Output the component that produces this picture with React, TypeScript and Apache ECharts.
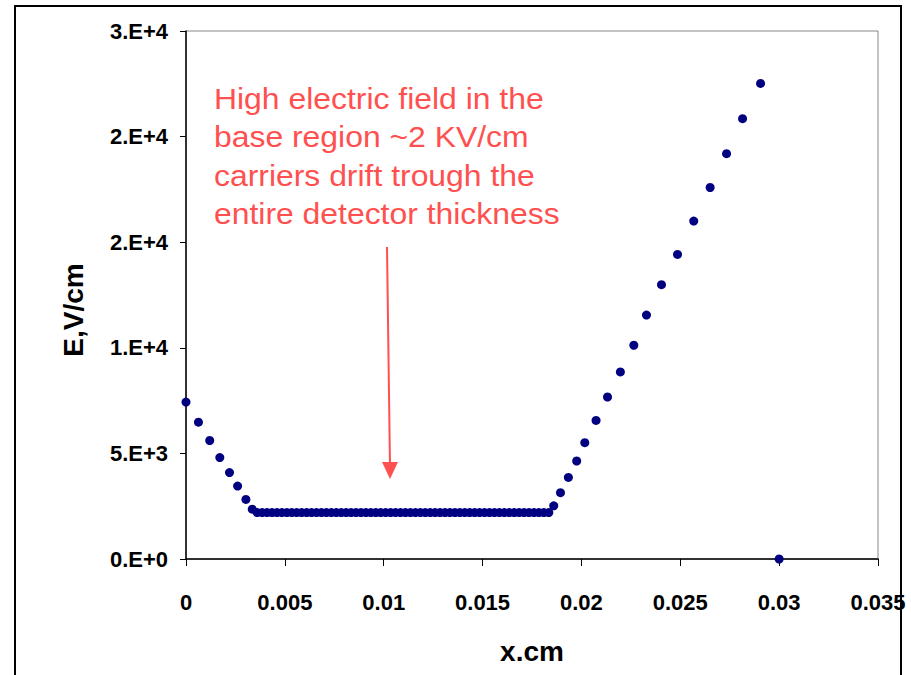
import React, { useEffect, useRef } from "react";
import * as echarts from "echarts";

// Descending part near x = 0
const descX = [0, 0.00063, 0.0012, 0.00171, 0.0022, 0.00261, 0.00303, 0.00335];
const descE = [7430, 6480, 5610, 4800, 4090, 3455, 2820, 2360];

// Flat base region
const flatX = [
  0.0036, 0.00385, 0.0041, 0.00435, 0.0046, 0.00485, 0.0051, 0.00535, 0.0056, 0.00585,
  0.0061, 0.00635, 0.0066, 0.00685, 0.0071, 0.00735, 0.0076, 0.00785, 0.0081, 0.00835,
  0.0086, 0.00885, 0.0091, 0.00935, 0.0096, 0.00985, 0.0101, 0.01035, 0.0106, 0.01085,
  0.0111, 0.01135, 0.0116, 0.01185, 0.0121, 0.01235, 0.0126, 0.01285, 0.0131, 0.01335,
  0.0136, 0.01385, 0.0141, 0.01435, 0.0146, 0.01485, 0.0151, 0.01535, 0.0156, 0.01585,
  0.0161, 0.01635, 0.0166, 0.01685, 0.0171, 0.01735, 0.0176, 0.01785, 0.0181, 0.01835,
];
const flatE = [
  2200, 2200, 2200, 2200, 2200, 2200, 2200, 2200, 2200, 2200,
  2200, 2200, 2200, 2200, 2200, 2200, 2200, 2200, 2200, 2200,
  2200, 2200, 2200, 2200, 2200, 2200, 2200, 2200, 2200, 2200,
  2200, 2200, 2200, 2200, 2200, 2200, 2200, 2200, 2200, 2200,
  2200, 2200, 2200, 2200, 2200, 2200, 2200, 2200, 2200, 2200,
  2200, 2200, 2200, 2200, 2200, 2200, 2200, 2200, 2200, 2200,
];

// Rising part and end point
const riseX = [0.0186, 0.01894, 0.01934, 0.01976, 0.02017, 0.02074, 0.02132, 0.02197, 0.02265,
  0.02329, 0.02405, 0.02486, 0.02568, 0.02651, 0.02734, 0.02815, 0.02906, 0.03];
const riseE = [2520, 3140, 3860, 4640, 5510, 6560, 7670, 8860, 10120,
  11550, 12990, 14420, 16000, 17590, 19190, 20850, 22520, 0];

const xTicks = [0, 0.005, 0.01, 0.015, 0.02, 0.025, 0.03, 0.035];
const yTicks = [0, 5000, 10000, 15000, 20000, 25000];

const annotation = [
  "High electric field in the",
  "base region ~2 KV/cm",
  "carriers drift trough the",
  "entire detector thickness",
];

function sciLabel(v: number): string {
  if (v === 0) return "0.E+0";
  let e = Math.floor(Math.log10(Math.abs(v)) + 1e-9);
  let m = Math.round(v / Math.pow(10, e) + 1e-9);
  if (m >= 10) { m = 1; e += 1; }
  return `${m}.E+${e}`;
}

export default function App() {
  const ref = useRef<HTMLDivElement>(null);
  useEffect(() => {
    if (!ref.current) return;
    const chart = echarts.init(ref.current, null, { renderer: "svg" });
    const pts: number[][] = [];
    descX.forEach((x, i) => pts.push([x, descE[i]]));
    flatX.forEach((x, i) => pts.push([x, flatE[i]]));
    riseX.forEach((x, i) => pts.push([x, riseE[i]]));
    const red = "#FF5050";
    const font = "'Liberation Sans', Arial, sans-serif";
    chart.setOption({
      animation: false,
      backgroundColor: "#fff",
      grid: { left: 186, top: 31, right: 33, bottom: 116, show: true, borderColor: "#888", borderWidth: 1 },
      xAxis: {
        type: "value",
        min: xTicks[0],
        max: xTicks[xTicks.length - 1],
        interval: xTicks[1] - xTicks[0],
        name: "x.cm",
        nameLocation: "middle",
        nameGap: 78,
        nameTextStyle: { fontFamily: font, fontWeight: "bold", fontSize: 28, color: "#000" },
        axisLine: { show: true, lineStyle: { color: "#000", width: 1.5 } },
        axisTick: { show: true, inside: false, length: 7, lineStyle: { color: "#000" } },
        splitLine: { show: false },
        axisLabel: {
          margin: 32,
          fontFamily: font, fontWeight: "bold", fontSize: 22, color: "#000",
          formatter: (v: number) => String(parseFloat(v.toFixed(3))),
        },
      },
      yAxis: {
        type: "value",
        min: yTicks[0],
        max: yTicks[yTicks.length - 1],
        interval: yTicks[1] - yTicks[0],
        name: "E,V/cm",
        nameLocation: "middle",
        nameGap: 99,
        nameTextStyle: { fontFamily: font, fontWeight: "bold", fontSize: 28, color: "#000", padding: [0, 30, 0, 0] },
        axisLine: { show: true, lineStyle: { color: "#000", width: 1.5 } },
        axisTick: { show: true, inside: false, length: 6, lineStyle: { color: "#000" } },
        splitLine: { show: false },
        axisLabel: {
          margin: 18,
          fontFamily: font, fontWeight: "bold", fontSize: 22, color: "#000",
          formatter: (v: number) => sciLabel(v),
        },
      },
      series: [
        {
          type: "scatter",
          data: pts,
          symbol: "circle",
          symbolSize: 9,
          itemStyle: { color: "#000080", opacity: 1 },
        },
      ],
      graphic: [
        {
          type: "rect",
          shape: { x: 15, y: 6, width: 886, height: 690 },
          style: { fill: "none", stroke: "#000", lineWidth: 2 },
          silent: true,
        },
        {
          type: "text",
          x: 214,
          y: 79,
          scaleX: 1.1,
          style: {
            text: annotation.join("\n"),
            fontFamily: font,
            fontSize: 29,
            lineHeight: 38.5,
            fill: red,
          },
        },
        {
          type: "line",
          shape: { x1: 387, y1: 247, x2: 390, y2: 466 },
          style: { stroke: red, lineWidth: 2 },
        },
        {
          type: "polygon",
          shape: { points: [[382, 462], [398, 462], [390, 479]] },
          style: { fill: red },
        },
      ],
    });
    return () => chart.dispose();
  }, []);
  return <div ref={ref} style={{ position: "fixed", left: 0, top: 0, width: 911, height: 675 }} />;
}
